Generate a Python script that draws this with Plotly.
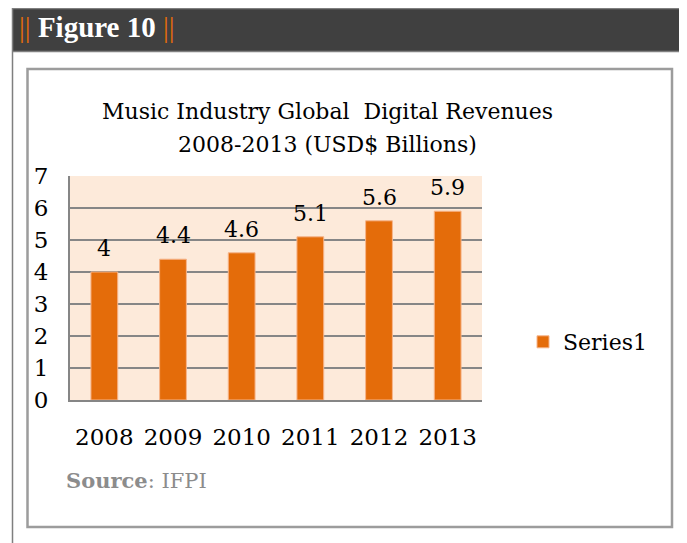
import plotly.graph_objects as go

years = ["2008", "2009", "2010", "2011", "2012", "2013"]
revenues = [4, 4.4, 4.6, 5.1, 5.6, 5.9]
series_name = "Series1"
title_line1 = "Music Industry Global  Digital Revenues"
title_line2 = "2008-2013 (USD$ Billions)"
y_ticks = [0, 1, 2, 3, 4, 5, 6, 7]

# page is 687x543; the html body adds an 8px margin
OFF = 8
PAGE_W, PAGE_H = 687, 543
W, H = PAGE_W - OFF, PAGE_H - OFF
L, R, T, B = 70, 482, 176, 400  # plot area in page pixels


def px(x):
    return (x - L) / (R - L)


def py(y):
    return (B - y) / (B - T)


SERIF = "DejaVu Serif"
ORANGE = "#E46C0A"

fig = go.Figure()
fig.add_trace(go.Bar(
    x=years, y=revenues, name=series_name,
    marker=dict(color=ORANGE, line=dict(color="#F6B48A", width=1)),
    showlegend=True,
))

annotations = []
for i, v in enumerate(revenues):
    annotations.append(dict(
        x=i, y=v, xref="x", yref="y", text=f"{v:g}", showarrow=False,
        yanchor="bottom", yshift=9, font=dict(family=SERIF, size=22, color="#000000"),
    ))

annotations += [
    dict(x=px(327.5), y=py(112), xref="paper", yref="paper", text=title_line1,
         showarrow=False, xanchor="center", yanchor="middle",
         font=dict(family=SERIF, size=22, color="#000000")),
    dict(x=px(327.5), y=py(144), xref="paper", yref="paper", text=title_line2,
         showarrow=False, xanchor="center", yanchor="middle",
         font=dict(family=SERIF, size=22, color="#000000")),
    dict(x=px(64), y=py(480), xref="paper", yref="paper", text="<b>Source</b>: IFPI",
         showarrow=False, xanchor="left", yanchor="middle",
         font=dict(family=SERIF, size=21, color="#8C8C8C")),
    dict(x=px(17), y=py(27), xref="paper", yref="paper",
         text="<span style='color:#E46C0A'>||</span> <b>Figure 10</b> <span style='color:#E46C0A'>||</span>",
         showarrow=False, xanchor="left", yanchor="middle",
         font=dict(family="Liberation Serif", size=29, color="#FFFFFF")),
]

shapes = [
    # banner
    dict(type="rect", xref="paper", yref="paper", x0=px(12), x1=px(690), y0=py(8), y1=py(52),
         fillcolor="#404040", line=dict(width=0), layer="below"),
    dict(type="line", xref="paper", yref="paper", x0=px(12), x1=px(690), y0=py(8.5), y1=py(8.5),
         line=dict(color="#7F7F7F", width=1.5)),
    dict(type="line", xref="paper", yref="paper", x0=px(12), x1=px(690), y0=py(51.5), y1=py(51.5),
         line=dict(color="#808080", width=1.5)),
    # left page line
    dict(type="line", xref="paper", yref="paper", x0=px(12.5), x1=px(12.5), y0=py(8), y1=py(545),
         line=dict(color="#7F7F7F", width=1.5)),
    # chart box
    dict(type="rect", xref="paper", yref="paper", x0=px(27.5), x1=px(672), y0=py(69), y1=py(527),
         line=dict(color="#9C9C9C", width=2.5), fillcolor="rgba(0,0,0,0)", layer="below"),
]

fig.update_layout(
    width=W, height=H,
    margin=dict(l=L - OFF, r=PAGE_W - R, t=T - OFF, b=PAGE_H - B, autoexpand=False),
    paper_bgcolor="#FFFFFF",
    plot_bgcolor="#FDEADA",
    bargap=0.61,
    font=dict(family=SERIF, size=22, color="#000000"),
    annotations=annotations,
    shapes=shapes,
    legend=dict(x=px(523), y=py(342), xanchor="left", yanchor="middle",
                font=dict(family=SERIF, size=22, color="#000000"),
                bgcolor="rgba(0,0,0,0)"),
    xaxis=dict(type="category", range=[-0.5, len(years) - 0.5], autorange=False,
               showgrid=False, showline=True, linecolor="#868686", linewidth=2,
               ticks="", ticklabelstandoff=15, tickfont=dict(family=SERIF, size=23)),
    yaxis=dict(range=[0, 7], autorange=False, tickvals=y_ticks, showgrid=True,
               gridcolor="#868686", gridwidth=1.5,
               showline=True, linecolor="#868686", linewidth=2, zeroline=False,
               ticks="", ticklabelstandoff=15, tickfont=dict(family=SERIF, size=23)),
)

fig.write_html("out.html")
